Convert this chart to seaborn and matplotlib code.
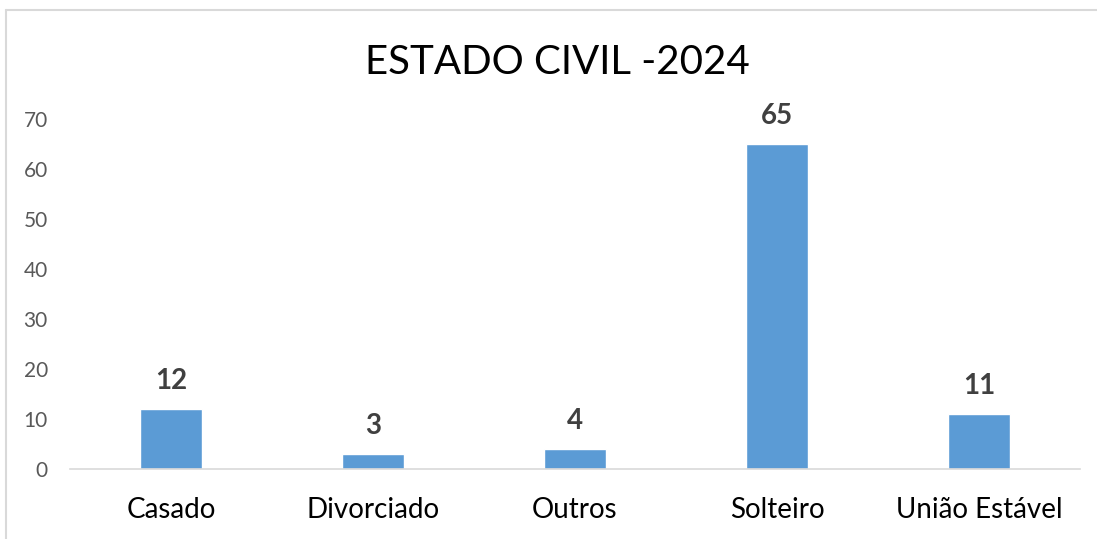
import matplotlib
matplotlib.use("Agg")
import matplotlib.pyplot as plt
from matplotlib.lines import Line2D
import seaborn as sns
import pandas as pd

# data
categorias = ["Casado", "Divorciado", "Outros", "Solteiro", "União Estável"]
quantidade = [12, 3, 4, 65, 11]
titulo = "ESTADO CIVIL -2024"

sns.set_style("white")
plt.rcParams["font.family"] = ["Lato", "DejaVu Sans"]

df = pd.DataFrame({"Estado civil": categorias, "Quantidade": quantidade})

fig = plt.figure(figsize=(10.97, 5.39), dpi=100)
ax = fig.add_axes([70 / 1097, 70 / 539, 1010 / 1097, 350 / 539])

sns.barplot(data=df, x="Estado civil", y="Quantidade", color="#5B9BD5",
            width=0.31, saturation=1, ax=ax)

ax.set_ylim(0, 70)
ax.set_xlim(-0.5, len(categorias) - 0.5)
ax.set_yticks(range(0, 71, 10))
ax.set_xlabel("")
ax.set_ylabel("")

# labels on top of the bars
ax.bar_label(ax.containers[0], padding=11, fontsize=20, fontweight="bold",
             color="#404040")

for side in ["top", "right", "left"]:
    ax.spines[side].set_visible(False)
ax.spines["bottom"].set_color("#D9D9D9")
ax.spines["bottom"].set_linewidth(1.2)

ax.tick_params(axis="y", length=0, labelsize=15, labelcolor="#595959", pad=16)
ax.tick_params(axis="x", length=0, labelsize=20, labelcolor="#000000", pad=20)

fig.text(557 / 1097, 1 - 62 / 539, titulo, ha="center", va="center",
         fontsize=29, color="#000000")

# chart area border (top and left edges visible)
fig.add_artist(Line2D([6 / 1097, 6 / 1097], [0, 1 - 10 / 539],
                      transform=fig.transFigure, color="#D9D9D9", lw=1.5))
fig.add_artist(Line2D([6 / 1097, 1], [1 - 10 / 539, 1 - 10 / 539],
                      transform=fig.transFigure, color="#D9D9D9", lw=1.5))

fig.savefig("out.png", dpi=100, facecolor="white")
